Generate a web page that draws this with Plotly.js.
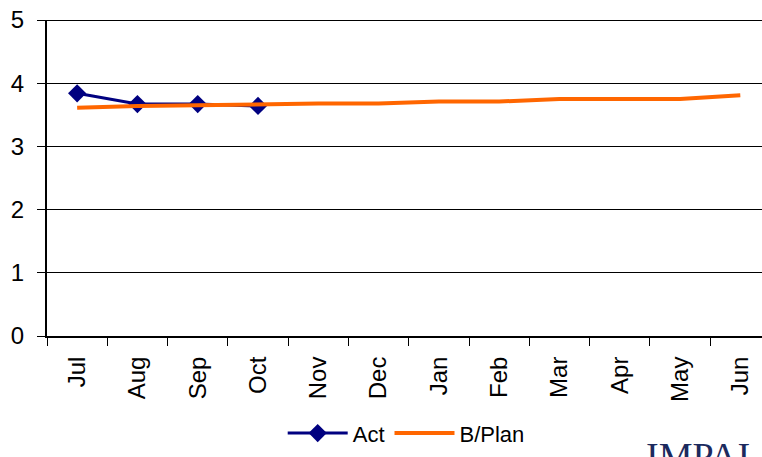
<!DOCTYPE html>
<html>
<head>
<meta charset="utf-8">
<script src="https://cdn.plot.ly/plotly-3.0.1.min.js"></script>
<style>html,body{margin:0;padding:0;background:#fff;}#chart{width:762px;height:457px;}</style>
</head>
<body>
<div id="chart"></div>
<script>
const months = ["Jul","Aug","Sep","Oct","Nov","Dec","Jan","Feb","Mar","Apr","May","Jun"];
const actMonths = ["Jul","Aug","Sep","Oct"];
const actValues = [3.84, 3.67, 3.67, 3.64];
const planValues = [3.61, 3.64, 3.65, 3.67, 3.68, 3.68, 3.71, 3.71, 3.75, 3.75, 3.75, 3.81];
const yTicks = [0, 1, 2, 3, 4, 5];

const traces = [
  {
    x: actMonths, y: actValues, name: "Act", type: "scatter", mode: "lines+markers",
    line: {color: "#000080", width: 3},
    marker: {symbol: "diamond", size: 14, color: "#000080"}
  },
  {
    x: months, y: planValues, name: "B/Plan", type: "scatter", mode: "lines",
    line: {color: "#FF6600", width: 4}
  }
];

const layout = {
  width: 762, height: 457,
  margin: {l: 47, r: 0, t: 20, b: 121},
  paper_bgcolor: "#fff", plot_bgcolor: "#fff",
  font: {family: "Liberation Sans, Arial, sans-serif", color: "#000", size: 22},
  showlegend: true,
  legend: {
    orientation: "h", xref: "container", yref: "container",
    x: 0.371, xanchor: "left", y: 0.006, yanchor: "bottom",
    font: {size: 22, color: "#000"}, itemwidth: 60, traceorder: "normal",
    bgcolor: "rgba(0,0,0,0)", borderwidth: 0
  },
  xaxis: {
    type: "category", categoryorder: "array", categoryarray: months,
    range: [-0.5, 11.36], tickson: "boundaries", automargin: false,
    ticks: "outside", ticklen: 8, tickcolor: "#000", tickwidth: 1,
    showline: true, linecolor: "#000", linewidth: 2,
    showgrid: false, tickangle: -90, tickfont: {size: 24, color: "#000"},
    ticklabelstandoff: 9, fixedrange: true
  },
  yaxis: {
    range: [0, 5], tickvals: yTicks, ticktext: yTicks.map(String), automargin: false,
    ticks: "outside", ticklen: 8, tickcolor: "#000", tickwidth: 1,
    showline: true, linecolor: "#000", linewidth: 2,
    showgrid: true, gridcolor: "#000", gridwidth: 1,
    zeroline: false, tickfont: {size: 24, color: "#000"},
    ticklabelstandoff: 8, fixedrange: true
  },
  shapes: [{
    type: "line", xref: "paper", yref: "y", x0: 0, x1: 1, y0: 5, y1: 5,
    line: {color: "#000", width: 2}
  }],
  annotations: [{
    text: "IMPAI", xref: "paper", yref: "paper", x: 0.835, y: -0.306,
    xanchor: "left", yanchor: "top", showarrow: false,
    font: {family: "Liberation Serif, Times New Roman, serif", size: 38, color: "#1c2a5e"}
  }]
};

Plotly.newPlot("chart", traces, layout, {displayModeBar: false, staticPlot: true});
</script>
</body>
</html>
